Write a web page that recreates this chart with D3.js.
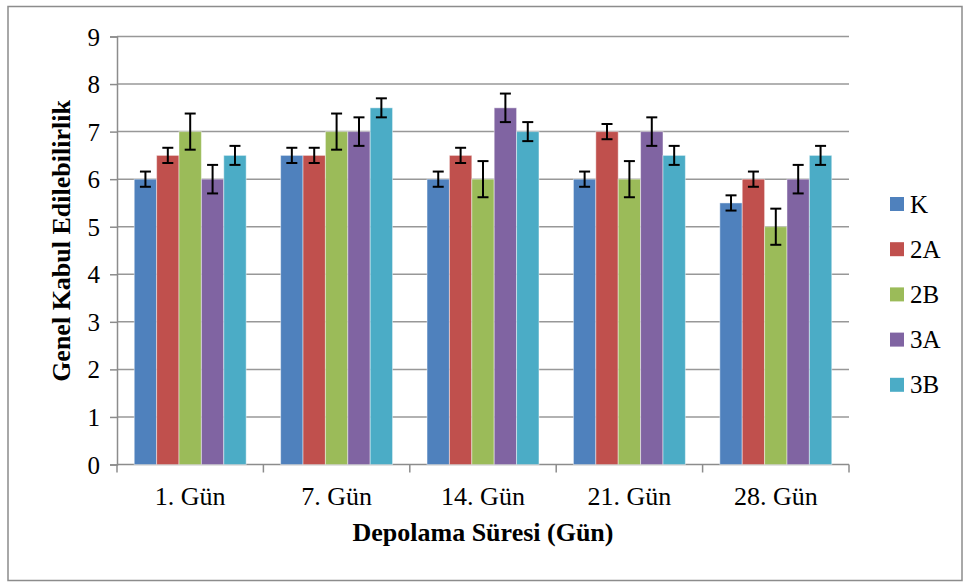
<!DOCTYPE html>
<html>
<head>
<meta charset="utf-8">
<script src="https://cdn.jsdelivr.net/npm/d3@7"></script>
<style>
    body { margin: 0; background: #fff; }
    svg text { font-family: "Liberation Serif", "Times New Roman", serif; fill: #000; }
</style>
</head>
<body>
<div id="chart"></div>
<script>
// categories and series
const days = ["1. Gün", "7. Gün", "14. Gün", "21. Gün", "28. Gün"];
const groups = ["K", "2A", "2B", "3A", "3B"];
const colors = ["#4F81BD", "#C0504D", "#9BBB59", "#8064A2", "#4BACC6"];

// mean scores per group, one value per day
const valK  = [6, 6.5, 6, 6, 5.5];
const val2A = [6.5, 6.5, 6.5, 7, 6];
const val2B = [7, 7, 6, 6, 5];
const val3A = [6, 7, 7.5, 7, 6];
const val3B = [6.5, 7.5, 7, 6.5, 6.5];
const values = [valK, val2A, val2B, val3A, val3B];

// error (+/-) per group
const errors = [0.16, 0.16, 0.38, 0.3, 0.2];

const yTicks = [0, 1, 2, 3, 4, 5, 6, 7, 8, 9];

const W = 964, H = 583;
const margin = { top: 36.5, left: 117, right: 115, bottom: 118.5 };
const width = W - margin.left - margin.right;
const height = H - margin.top - margin.bottom;

const svg = d3.select("#chart").append("svg")
    .attr("width", W)
    .attr("height", H);

// outer frame
svg.append("rect")
    .attr("x", 8).attr("y", 6.5)
    .attr("width", 954).attr("height", 574)
    .attr("fill", "none")
    .attr("stroke", "#8c8c8c")
    .attr("stroke-width", 1.5);

const g = svg.append("g")
    .attr("transform", "translate(" + margin.left + "," + margin.top + ")");

// scales
const x0 = d3.scaleBand().domain(days).range([0, width]);
const x1 = d3.scaleBand().domain(groups).range([0, x0.bandwidth()]).paddingOuter(0.77);
const y = d3.scaleLinear().domain([0, 9]).range([height, 0]);

// gridlines
g.append("g")
    .selectAll("line")
    .data(yTicks.slice(1))
    .join("line")
    .attr("x1", 0).attr("x2", width)
    .attr("y1", d => y(d)).attr("y2", d => y(d))
    .attr("stroke", "#989898")
    .attr("stroke-width", 1.5);

// y axis
const yAxis = g.append("g")
    .call(d3.axisLeft(y).tickValues(yTicks).tickSize(7).tickPadding(10).tickFormat(d3.format("d")));
yAxis.attr("font-family", null);
yAxis.select(".domain").attr("stroke", "#8c8c8c").attr("stroke-width", 1.5);
yAxis.selectAll(".tick line").attr("stroke", "#8c8c8c").attr("stroke-width", 1.5);
yAxis.selectAll(".tick text").attr("font-size", 25).attr("dy", "0.34em");

// x axis: ticks at category boundaries
const xAxisG = g.append("g").attr("transform", "translate(0," + height + ")");
xAxisG.append("line")
    .attr("x1", 0).attr("x2", width)
    .attr("stroke", "#8c8c8c").attr("stroke-width", 1.5);
xAxisG.selectAll(".bound")
    .data(d3.range(days.length + 1))
    .join("line")
    .attr("class", "bound")
    .attr("x1", i => i * x0.step()).attr("x2", i => i * x0.step())
    .attr("y1", 0).attr("y2", 8)
    .attr("stroke", "#8c8c8c").attr("stroke-width", 1.5);
xAxisG.selectAll(".cat")
    .data(days)
    .join("text")
    .attr("class", "cat")
    .attr("x", d => x0(d) + x0.bandwidth() / 2)
    .attr("y", 40)
    .attr("text-anchor", "middle")
    .attr("font-size", 26)
    .text(d => d);

// bars
const rows = [];
groups.forEach((grp, gi) => {
    days.forEach((day, di) => {
        rows.push({ day: day, group: grp, gi: gi, value: values[gi][di], err: errors[gi] });
    });
});

g.append("g")
    .selectAll("rect")
    .data(rows)
    .join("rect")
    .attr("x", d => x0(d.day) + x1(d.group))
    .attr("y", d => y(d.value))
    .attr("width", x1.bandwidth())
    .attr("height", d => height - y(d.value))
    .attr("fill", d => colors[d.gi])
    .attr("stroke", "rgba(255,255,255,0.45)")
    .attr("stroke-width", 1);

// error bars
const cap = 5.5;
const eb = g.append("g")
    .attr("stroke", "#000")
    .attr("stroke-width", 2);
rows.forEach(d => {
    const cx = x0(d.day) + x1(d.group) + x1.bandwidth() / 2;
    const yt = y(d.value + d.err), yb = y(d.value - d.err);
    eb.append("line").attr("x1", cx).attr("x2", cx).attr("y1", yt).attr("y2", yb);
    eb.append("line").attr("x1", cx - cap).attr("x2", cx + cap).attr("y1", yt).attr("y2", yt);
    eb.append("line").attr("x1", cx - cap).attr("x2", cx + cap).attr("y1", yb).attr("y2", yb);
});

// axis titles
svg.append("text")
    .attr("x", margin.left + width / 2)
    .attr("y", 541)
    .attr("text-anchor", "middle")
    .attr("font-size", 26)
    .attr("font-weight", "bold")
    .text("Depolama Süresi (Gün)");

svg.append("text")
    .attr("transform", "translate(70,241) rotate(-90)")
    .attr("text-anchor", "middle")
    .attr("font-size", 26)
    .attr("font-weight", "bold")
    .text("Genel Kabul Edilebilirlik");

// legend
const legend = svg.append("g").attr("transform", "translate(890,204)");
const li = legend.selectAll("g")
    .data(groups)
    .join("g")
    .attr("transform", (d, i) => "translate(0," + (i * 45.2) + ")");
li.append("rect")
    .attr("x", 0).attr("y", -7)
    .attr("width", 14).attr("height", 14)
    .attr("fill", (d, i) => colors[i]);
li.append("text")
    .attr("x", 20)
    .attr("dy", "0.34em")
    .attr("font-size", 25)
    .text(d => d);
</script>
</body>
</html>
